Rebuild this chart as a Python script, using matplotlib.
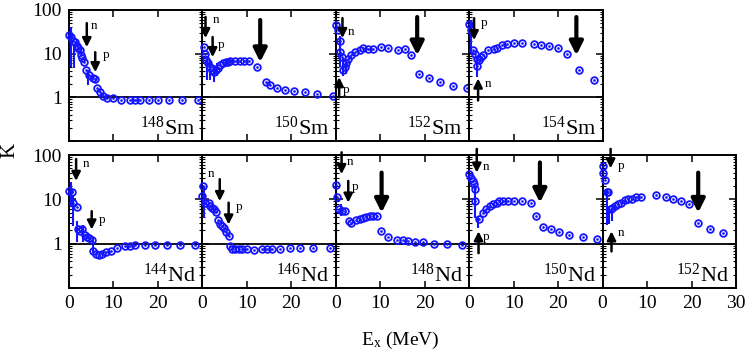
import matplotlib
matplotlib.use('Agg')
import matplotlib.pyplot as plt
from matplotlib.ticker import LogLocator, NullFormatter, FixedLocator

# K(Ex) values, one set of arrays per nucleus
sm148_E = [0, 0.4, 0.8, 1.3, 1.7, 2.0, 2.4, 2.7, 3.0, 3.4, 3.9, 4.5, 5.3, 5.9, 6.4, 7.0, 7.7, 8.5, 10.0,
           11.7, 13.7, 14.9, 16.0, 18.0, 20.1, 22.6, 25.4, 28.9]
sm148_K = [27, 24, 20, 18.6, 15, 13.4, 12, 9.2, 7.9, 6.5, 4.2, 3.2, 2.7, 2.6, 1.6, 1.3, 1.07, 0.97, 0.97,
           0.89, 0.89, 0.89, 0.89, 0.89, 0.89, 0.89, 0.89, 0.89]
sm148_bars = [(0.45, 5, 41), (1.1, 4.6, 17), (4.3, 1.9, 4.2)]

sm150_E = [0.3, 0.6, 0.9, 1.3, 1.7, 2.1, 2.5, 3.0, 3.5, 4.0, 4.6, 5.2, 5.8, 6.3, 7.4, 8.5, 9.4, 10.4,
           12.3, 14.2, 15.3, 16.8, 18.5, 20.6, 23.0, 25.8, 29.4]
sm150_K = [14, 10, 7, 6, 5, 4.3, 3.8, 4.2, 4.8, 5.4, 6.0, 6.4, 6.6, 6.7, 6.7, 6.7, 6.7, 6.7,
           5.0, 2.25, 1.9, 1.67, 1.5, 1.42, 1.33, 1.2, 1.1]
sm150_bars = [(1.0, 2.5, 9), (1.8, 2.5, 7), (2.5, 2.3, 5.5), (3.2, 3.0, 6.0)]

sm152_E = [0, 0.5, 0.9, 1.0, 1.5, 1.65, 2.0, 2.4, 2.8, 3.5, 4.3, 5.4, 6.1, 7.3, 8.4, 10.1, 11.8, 14.0,
           15.5, 17.0, 18.7, 21.0, 23.4, 26.4, 29.6]
sm152_K = [45, 35, 19, 11, 8.4, 4.2, 5, 6, 7.7, 9.2, 10.7, 12, 13.6, 12.7, 12.7, 14.3, 13.6, 12,
           12.7, 9.2, 3.5, 2.7, 2.25, 1.82, 1.6]
sm152_bars = [(1.0, 5, 25), (1.7, 3, 8), (2.2, 3.5, 7)]

sm154_E = [0, 0.5, 0.9, 1.3, 1.7, 1.75, 2.1, 2.6, 3.2, 4.3, 5.5, 6.2, 7.4, 8.5, 10.0, 11.9, 14.5, 16.1,
           17.9, 19.9, 22.1, 24.8, 28.0]
sm154_K = [49, 35, 12, 10, 7.7, 5.2, 7, 8.4, 9.2, 12, 13, 13.6, 15.7, 17, 17.7, 17.7, 16.5, 15.7,
           14.8, 13.6, 10, 4.3, 2.55]
sm154_bars = [(0.5, 10, 59), (1.7, 2.9, 7.8)]

nd144_E = [0, 0.6, 1.0, 1.7, 2.0, 2.5, 2.9, 3.6, 4.0, 4.6, 5.1, 5.5, 6.1, 6.8, 7.4, 8.3, 9.4, 10.7,
           12.6, 13.7, 14.9, 17.1, 19.4, 22.0, 25.0, 28.4]
nd144_K = [15.5, 15, 8.4, 6.8, 2.1, 1.9, 2.1, 1.6, 1.4, 1.35, 1.2, 0.67, 0.59, 0.56, 0.59, 0.65, 0.7, 0.8,
           0.87, 0.87, 0.92, 0.92, 0.95, 0.95, 0.95, 0.95]
nd144_bars = [(0.45, 7, 24), (0.8, 2.5, 12), (1.9, 1.1, 3.2), (3.1, 1.1, 2.6), (5.5, 0.61, 1.35)]

nd146_E = [0, 0.1, 0.6, 1.4, 1.8, 2.2, 2.5, 3.1, 3.6, 4.0, 4.4, 4.8, 5.2, 5.9, 6.3, 6.7, 7.4, 8.2, 8.9,
           10.1, 11.6, 13.5, 14.6, 15.7, 17.4, 19.7, 21.9, 24.9, 28.7]
nd146_K = [12, 20, 8.4, 8.4, 7, 6.5, 5.9, 5.1, 3.5, 2.85, 2.56, 2.27, 1.85, 1.47, 0.87, 0.77, 0.77, 0.77, 0.77,
           0.77, 0.73, 0.77, 0.77, 0.77, 0.77, 0.8, 0.8, 0.8, 0.8]
nd146_bars = [(0.3, 3.8, 20)]

nd148_E = [0, 0.3, 0.75, 1.3, 2.0, 2.9, 3.5, 4.5, 5.4, 6.1, 6.9, 7.7, 8.4, 9.2, 10.1, 11.8, 13.7, 15.0,
           16.3, 17.8, 19.7, 22.1, 24.9, 28.3]
nd148_K = [21, 11, 5.9, 5.4, 5.4, 3.2, 3.0, 3.4, 3.6, 3.8, 4.0, 4.2, 4.2, 4.3, 1.9, 1.42, 1.23, 1.19,
           1.17, 1.07, 1.07, 1.0, 1.0, 0.95]
nd148_bars = [(0.15, 0.51, 26), (1.2, 4.2, 7.7)]

nd150_E = [0, 0.5, 0.8, 1.0, 1.3, 1.3, 2.1, 3.1, 3.8, 4.7, 5.4, 6.2, 6.8, 7.7, 8.8, 10.1, 11.8, 13.8,
           15.0, 16.6, 18.3, 20.3, 22.5, 25.5, 28.7]
nd150_K = [37, 31, 26, 22, 17.5, 9.1, 3.6, 5, 5.9, 7, 7.7, 8.4, 9.1, 9.1, 9.1, 9.1, 9.1, 8.1,
           4.3, 2.4, 2.1, 1.8, 1.55, 1.42, 1.28]
nd150_bars = [(1.3, 3.8, 20), (2.0, 2.3, 4.2)]

nd152_E = [0, 0.1, 0.5, 0.9, 1.2, 1.8, 2.2, 2.7, 3.4, 4.2, 5.0, 5.7, 6.5, 7.6, 8.7, 12.1, 14.3, 15.8,
           17.7, 19.4, 21.5, 24.1, 27.0]
nd152_K = [39, 57, 28, 14.7, 14.7, 5.9, 6.5, 7, 7.7, 8.4, 9.5, 10, 10.3, 11, 11.5, 12.3, 11.3, 10,
           9.1, 7.7, 2.95, 2.15, 1.75]
nd152_bars = [(1.0, 2.7, 17), (1.5, 2.85, 7), (2.2, 3.2, 5.9)]

# separation energy arrows: (E, tail K, head K, label, label E, label K)
sm148_arrows = [(4.0, 50, 14.1, 'n', 5.7, 43), (5.9, 10.8, 3.76, 'p', 8.3, 9.2)]
sm150_arrows = [(0.7, 69, 22.7, 'n', 3.0, 59), (2.3, 24, 8.3, 'p', 4.3, 15.7)]
sm152_arrows = [(1.5, 65, 22.7, 'n', 3.5, 31), (0.75, 1.0, 2.9, 'p', 2.4, 1.45)]
sm154_arrows = [(1.1, 65, 20.4, 'p', 3.3, 51), (2.0, 0.85, 2.7, 'n', 4.3, 2.07)]
nd144_arrows = [(1.6, 81, 26, 'n', 3.8, 62), (5.1, 5.4, 2.08, 'p', 7.4, 3.5)]
nd146_arrows = [(3.9, 28.5, 9.1, 'n', 2.0, 37), (5.9, 8.4, 2.7, 'p', 8.2, 6.8)]
nd148_arrows = [(1.3, 115, 37, 'n', 3.3, 70), (2.8, 26, 8.4, 'p', 4.3, 19.4)]
nd150_arrows = [(1.7, 137, 40, 'n', 3.7, 55), (2.1, 0.61, 1.9, 'p', 3.9, 1.42)]
nd152_arrows = [(1.8, 137, 50, 'p', 4.1, 57), (2.0, 0.67, 1.9, 'n', 4.1, 1.75)]

# thick arrows (E, tail K, head K)
big_arrows = {'150Sm': (13.0, 59, 6.4), '152Sm': (18.3, 69, 9.2), '154Sm': (24.1, 69, 9.2),
              '148Nd': (10.3, 40, 5.0), '150Nd': (15.9, 68, 8.4), '152Nd': (21.5, 40, 5.0)}

top_row = [('148', 'Sm', sm148_E, sm148_K, sm148_bars, sm148_arrows),
           ('150', 'Sm', sm150_E, sm150_K, sm150_bars, sm150_arrows),
           ('152', 'Sm', sm152_E, sm152_K, sm152_bars, sm152_arrows),
           ('154', 'Sm', sm154_E, sm154_K, sm154_bars, sm154_arrows)]
bottom_row = [('144', 'Nd', nd144_E, nd144_K, nd144_bars, nd144_arrows),
              ('146', 'Nd', nd146_E, nd146_K, nd146_bars, nd146_arrows),
              ('148', 'Nd', nd148_E, nd148_K, nd148_bars, nd148_arrows),
              ('150', 'Nd', nd150_E, nd150_K, nd150_bars, nd150_arrows),
              ('152', 'Nd', nd152_E, nd152_K, nd152_bars, nd152_arrows)]

plt.rcParams['font.family'] = ['Liberation Serif', 'DejaVu Serif']
plt.rcParams['mathtext.fontset'] = 'custom'
plt.rcParams['mathtext.rm'] = 'Liberation Serif'
plt.rcParams['mathtext.it'] = 'Liberation Serif:italic'

W, H = 747, 355
fig = plt.figure(figsize=(W / 100, H / 100), dpi=100)
col_x = [69, 202.4, 335.8, 469.2, 602.6]
pw = 133.4
row_px = [(10, 141), (155, 288)]
blue = '#1414ff'

for r, row in enumerate([top_row, bottom_row]):
    top, bot = row_px[r]
    for c, (mass, elem, E, K, bars, arrows) in enumerate(row):
        ax = fig.add_axes([col_x[c] / W, 1 - bot / H, pw / W, (bot - top) / H])
        ax.set_yscale('log')
        ax.set_xlim(0, 30)
        ax.set_ylim(0.1, 100)
        ax.axhline(1, color='k', lw=1.3, zorder=1)

        for e, lo, hi in bars:
            ax.vlines(e, lo, hi, color=blue, lw=1.5, zorder=2)
        ax.plot(E, K, 'o', mfc='none', mec=blue, mew=1.3, ms=4.8, zorder=3, clip_on=False)
        ax.plot(E, K, '.', color=blue, ms=1.8, zorder=3, clip_on=False)

        for e, tail, head, lab, le, lk in arrows:
            ax.annotate('', xy=(e, head), xytext=(e, tail), annotation_clip=False,
                        arrowprops=dict(arrowstyle='-|>', color='k', lw=1.8,
                                        mutation_scale=13, shrinkA=0, shrinkB=0))
            ax.text(le, lk, lab, fontsize=9.5, ha='center', va='center')
        key = mass + elem
        if key in big_arrows:
            e, tail, head = big_arrows[key]
            ax.annotate('', xy=(e, head), xytext=(e, tail), annotation_clip=False,
                        arrowprops=dict(arrowstyle='-|>', color='k', lw=3,
                                        mutation_scale=20, shrinkA=0, shrinkB=0))

        ax.text(0.95, 0.05, '$^{' + mass + '}$' + elem, transform=ax.transAxes,
                fontsize=16, ha='right', va='baseline')

        ax.yaxis.set_major_locator(FixedLocator([0.1, 1, 10, 100]))
        ax.yaxis.set_minor_locator(LogLocator(base=10, subs=range(2, 10)))
        ax.yaxis.set_minor_formatter(NullFormatter())
        if c == 0:
            ax.set_yticklabels(['', '1', '10', '100'])
        else:
            ax.set_yticklabels([])
        ax.set_xticks([0, 10, 20, 30])
        if r == 1:
            last = c == len(row) - 1
            ax.set_xticklabels(['0', '10', '20', '30' if last else ''])
        else:
            ax.set_xticklabels([])
        ax.tick_params(which='both', direction='in', top=True, right=True, labelsize=14, pad=5)
        ax.tick_params(which='major', length=5, width=1.1)
        ax.tick_params(which='minor', length=2.5, width=0.8)
        for s in ax.spines.values():
            s.set_linewidth(1.4)

fig.text(10 / W, 1 - 150 / H, 'K', fontsize=15, rotation=90, ha='center', va='center')
fig.text(400 / W, 1 - 340 / H, r'E$_{\mathrm{x}}$ (MeV)', fontsize=14, ha='center', va='center')

fig.savefig('out.png', dpi=100)
